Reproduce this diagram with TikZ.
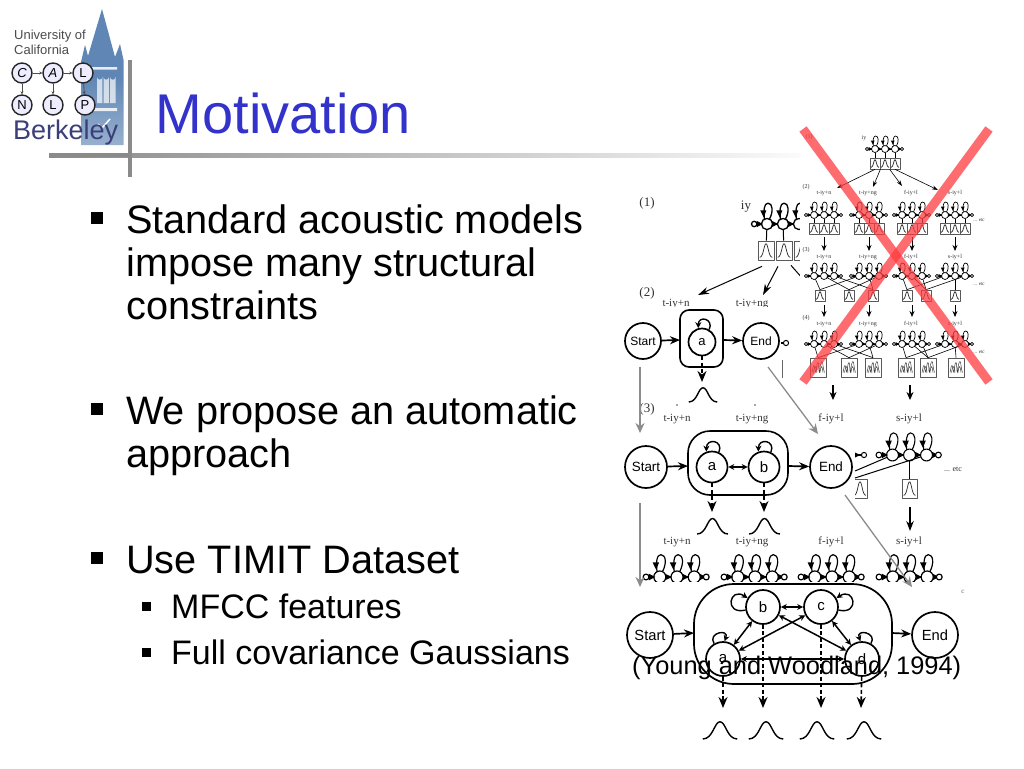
\documentclass[tikz,border=0pt]{standalone}
\usepackage{fontspec}
\setmainfont{Liberation Sans}
\newfontfamily\labelfont{Liberation Serif}
\usetikzlibrary{arrows.meta}
\definecolor{titleblue}{HTML}{3333CC}
\definecolor{rulegray}{HTML}{8A8A8A}
\definecolor{towerblue}{HTML}{5F86B4}
\definecolor{crestink}{HTML}{3B3E78}
\definecolor{xred}{HTML}{FF3B3F}
\definecolor{figgray}{HTML}{8C8C8C}
\newcommand{\pts}[1]{\fontsize{#1}{#1}\selectfont}
\tikzset{
	txt/.style={anchor=base west,inner sep=0pt},
	bulletbox/.style={fill=black,inner sep=0pt,minimum size=#1},
	figlabel/.style={inner sep=0pt,text=black!80,font=\labelfont\pts{#1}},
	state/.style={circle,draw,fill=white,line width=1.7pt,inner sep=0pt,minimum size=#1},
	gbox/.style={draw=black!65,fill=white,inner sep=0pt,line width=.7pt},
	crest/.style={circle,draw=black!85,fill=blue!7,line width=1.4pt,inner sep=0pt,minimum size=20pt,font=\pts{13}},
	hop/.style={line width=1.7pt,-{Stealth[length=10pt,width=8pt]}},
	hopboth/.style={line width=1.5pt,{Stealth[length=6pt,width=6pt]}-{Stealth[length=6pt,width=6pt]}},
	drop/.style={line width=1.6pt,dash pattern=on 4pt off 2.5pt,-{Stealth[length=11pt,width=9pt]}},
	looptip/.style={line width=1.4pt,-{Stealth[length=6pt,width=6pt]}},
	graylink/.style={color=figgray,line width=1.3pt,-{Stealth[length=10pt,width=9pt]}},
	pics/chain/.style={code={
		\draw (-18,0) -- (17,0);
		\foreach \n/\i in {1/-10,2/0,3/10}{
			\begin{scope}[shift={(\i,0)}]
				\coordinate (-s\n) at (0,0);
				\draw (1.5,-3) .. controls (4.2,-8) and (3.5,-13) .. (0.6,-13) .. controls (-2,-13) and (-2.2,-8) .. (-1.6,-3);
				\fill (-4.2,-8.5)--(-.4,-8.5)--(-2.1,-4.2)--cycle;
				\fill (3.1,-1.9)--(7,0)--(3.1,1.9)--cycle;
				\draw[fill=white] (0,0) circle (3.5);
			\end{scope}
		}
		\fill (-16.3,-1.9)--(-12.6,0)--(-16.3,1.9)--cycle;
		\draw[fill=white] (-18,0) circle (1.7);
		\draw[fill=white] (17,0) circle (1.7);
	}},
	pics/bump/.style={code={
		\draw (-15,0) .. controls (-6,0) and (-5,-15) .. (0,-15) .. controls (5,-15) and (6,0) .. (15,0);
	}},
	pics/mix/.style={code={
		\draw (-6,5) .. controls (-5,1) and (-5,-2) .. (-4,-2) .. controls (-3,-2) and (-3,5) .. (-2,5) .. controls (-1.5,-1) and (-1,-5) .. (0,-5) .. controls (1,-5) and (.5,5) .. (1.5,5) .. controls (2,-2) and (3,-6) .. (4,-6) .. controls (5,-6) and (5,2) .. (6.5,5);
		\draw (-4.5,5) .. controls (-3,-3) and (-2,-3) .. (-1,5);
		\draw (2,5) .. controls (3,-3) and (4,-3) .. (5,5);
	}},
}
\newcommand{\gaussbox}[5]{
	\node[gbox,minimum width=#4pt,minimum height=#5pt] (#1) at (#2,#3) {};
	\pic[xscale=#4/38,yscale=#5/21,line width=.7pt,draw=black!85] at (#2,{#3+#5*.36}) {bump};
}
\begin{document}
\begin{tikzpicture}[x=1pt,y=-1pt,line join=round]
	\useasboundingbox (0,0) rectangle (1024,768);
	\fill[white] (0,0) rectangle (1024,768);

	\shade[top color=towerblue,bottom color=towerblue!65,middle color=towerblue] (102,9)--(115,57)--(120,44)--(123.5,60)--(123.5,145)--(81,145)--(81,62)--(85,45)--(88,56)--cycle;
	\fill[white,opacity=.85] (91,67) rectangle (117,69.5) (91,108) rectangle (117,111);
	\fill[white,opacity=.7] (97,103)--(97,77) arc (180:0:2.7) --(102.4,103)--cycle (103.5,103)--(103.5,77) arc (180:0:2.7) --(108.9,103)--cycle (110,103)--(110,77) arc (180:0:2.8) --(115.6,103)--cycle;
	\draw[white,line width=1.5pt] (98,124)--(102,128)--(110,119);
	\node[txt,text=black!70,font=\pts{13}] (univ) at (14,40) {University of};
	\node[txt,text=black!70,font=\pts{13}] (calif) at (14,55) {California};
	\foreach \nm/\lt/\px/\py in {c1/\textit{C}/22/73,c2/\textit{A}/53/73,c3/L/83/73,n1/N/22/105,n2/L/53/105,n3/P/85/105}
		\node[crest] (\nm) at (\px,\py) {\lt};
	\foreach \p/\q in {c1/c2,c2/c3,c1/n1,c2/n2,c3/n3}
		\draw[black!70,line width=.8pt,-{Stealth[length=3pt,width=3pt]}] (\p) -- (\q);
	\node[txt,text=crestink,font=\pts{27}] (berk) at (13,139) {Berkeley};

	\shade[left color=rulegray,right color=white] (49,153) rectangle (830,157);
	\fill[rulegray] (49,153) rectangle (130,157);
	\fill[rulegray] (128,60) rectangle (131.5,177);
	\node[txt,text=titleblue,font=\pts{56}] (title) at (155.5,133) {Motivation};

	\node[bulletbox=12pt] (b1) at (97,218) {};
	\node[txt,font=\pts{39.7}] (l1) at (126,233) {Standard acoustic models};
	\node[txt,font=\pts{39.7}] (l2) at (126,276) {impose many structural};
	\node[txt,font=\pts{39.7}] (l3) at (126,319) {constraints};
	\node[bulletbox=12pt] (b2) at (97,409) {};
	\node[txt,font=\pts{39.7}] (l4) at (126,424) {We propose an automatic};
	\node[txt,font=\pts{39.7}] (l5) at (126,467) {approach};
	\node[bulletbox=12pt] (b3) at (97,558) {};
	\node[txt,font=\pts{39.7}] (l6) at (126,573) {Use TIMIT Dataset};
	\node[bulletbox=9pt] (b4) at (146.5,606) {};
	\node[txt,font=\pts{34}] (l7) at (171,618) {MFCC features};
	\node[bulletbox=9pt] (b5) at (146.5,652) {};
	\node[txt,font=\pts{34}] (l8) at (171,664) {Full covariance Gaussians};

	\node[figlabel=13] (fa1) at (647,203) {(1)};
	\node[figlabel=13] (fa2) at (647,293) {(2)};
	\node[figlabel=13] (fa3) at (647,409) {(3)};
	\node[figlabel=13] (iy) at (746,207) {iy};
	\gaussbox{pa}{766}{250.5}{16}{19}
	\gaussbox{pb}{784}{250.5}{16}{19}
	\gaussbox{pc}{802}{250.5}{16}{19}
	\pic[scale=1.6,line width=1.3pt] (p1) at (783,224) {chain};
	\draw[line width=1pt,shorten <=5.6pt] (p1-s1) -- (pa);
	\draw[line width=1pt,shorten <=5.6pt] (p1-s2) -- (pb);
	\foreach \nm/\lt/\px in {qa/t-iy+n/676,qb/t-iy+ng/752}
		\node[figlabel=11] (\nm) at (\px,304) {\lt};
	\coordinate (pt1) at (698,295);
	\coordinate (pt2) at (763,295);
	\coordinate (pt3) at (803,279);
	\draw[line width=1pt,-{Stealth[length=11pt,width=7pt]}] (pa.south)++(-4,6) -- (pt1);
	\draw[line width=1pt,-{Stealth[length=11pt,width=7pt]}] (pb.south)++(-6,6) -- (pt2);
	\draw[line width=1pt] (pb.south)++(7,5) -- (pt3);

	\fill[white] (620,306.5) rectangle (800,398);
	\node[state=36pt,font=\pts{12}] (sa) at (643,341) {Start};
	\draw[line width=1.6pt,rounded corners=9pt,fill=white] (680,310) rectangle (723,367);
	\node[state=27pt,font=\pts{13}] (ua) at (702,342) {a};
	\node[state=36pt,font=\pts{12}] (ea) at (761,341) {End};
	\coordinate (ba) at (680,340);
	\coordinate (bb) at (723,340);
	\draw[hop] (sa) -- (ba);
	\draw[hop] (bb) -- (ea);
	\draw[looptip] (ua.60) .. controls +(5,-11) and +(0,-13) .. (ua.105);
	\coordinate (ga) at (702,382);
	\draw[drop] (ua) -- (ga);
	\pic[scale=.95,line width=1.4pt] at (703,402) {bump};
	\coordinate (oa) at (786,343);
	\draw[line width=1.5pt] (781,343) -- (oa);
	\draw[line width=1pt,fill=white] (oa) circle (2.6);
	\draw[black!60,line width=.8pt] (782,360) -- (782,378);
	\fill[black!70] (677,405) circle (.8) (755,405) circle (.8);

	\fill[white] (800,130) rectangle (1000,385);
	\node[figlabel=6] (fb1) at (809,137) {(1)};
	\node[figlabel=6] (fb2) at (806,187) {(2)};
	\node[figlabel=6] (fb3) at (806,250) {(3)};
	\node[figlabel=6] (fb4) at (806,318) {(4)};
	\node[figlabel=6] (iys) at (864,138) {iy};
	\pic[line width=.7pt] (t1) at (885,149) {chain};
	\foreach \n/\px in {1/875,2/885,3/895}{
		\gaussbox{tb\n}{\px}{163.5}{10}{11}
		\draw[line width=.7pt,shorten <=3.5pt] (t1-s\n) -- (tb\n);
	}
	\foreach \n/\ex/\ey in {1/837/188,2/873/187,3/902/186,4/938/190}{
		\coordinate (ta\n) at (\ex,\ey);
	}
	\draw[line width=.6pt,-{Stealth[length=6pt,width=4pt]}] (tb1.south) -- (ta1);
	\draw[line width=.6pt,-{Stealth[length=6pt,width=4pt]}] (tb1.south east) -- (ta2);
	\draw[line width=.6pt,-{Stealth[length=6pt,width=4pt]}] (tb3.south west) -- (ta3);
	\draw[line width=.6pt,-{Stealth[length=6pt,width=4pt]}] (tb3.south) -- (ta4);
	\foreach \y/\k in {193/a,257/b,324/c}{
		\foreach \n/\lt/\px in {1/t-iy+n/824,2/t-iy+ng/868,3/f-iy+l/911,4/s-iy+l/955}
			\node[figlabel=6] (\k\n) at (\px,\y) {\lt};
	}
	\foreach \n/\px in {1/824,2/869,3/912,4/955}{
		\pic[line width=.7pt] (cb\n) at (\px,215) {chain};
		\foreach \m/\dx in {1/-10,2/0,3/10}{
			\gaussbox{cb\n b\m}{\px+\dx}{228.5}{10}{11}
			\draw[line width=.7pt,shorten <=3.5pt] (cb\n-s\m) -- (cb\n b\m);
		}
		\coordinate (dn\n) at (\px,251);
		\coordinate (up\n) at (\px,237);
		\draw[line width=.8pt,-{Stealth[length=6pt,width=5pt]}] (up\n) -- (dn\n);
		\pic[line width=.7pt] (cc\n) at (\px,276) {chain};
		\pic[line width=.7pt] (cd\n) at (\px,344) {chain};
		\coordinate (dp\n) at (\px,317);
		\coordinate (uq\n) at (\px,305);
		\draw[line width=.8pt,-{Stealth[length=6pt,width=5pt]}] (uq\n) -- (dp\n);
	}
	\foreach \n/\px in {1/820,2/849,3/873,4/907,5/926,6/955}{
		\gaussbox{xb\n}{\px}{295.5}{10}{11}
	}
	\foreach \n/\px in {1/818,2/849,3/873,4/906,5/928,6/956}{
		\node[gbox,minimum width=16pt,minimum height=19pt] (xc\n) at (\px,367.5) {};
		\pic[line width=.5pt,black!75] at (\px,367.5) {mix};
	}
	\foreach \c/\s/\b in {1/1/1,2/1/1,1/2/2,2/3/2,1/3/3,2/2/3,3/1/4,3/2/5,3/3/5,4/1/4,4/2/6,4/3/5}{
		\draw[line width=.6pt,shorten <=3.5pt] (cc\c-s\s) -- (xb\b.north);
		\draw[line width=.6pt,shorten <=3.5pt] (cd\c-s\s) -- (xc\b.north);
	}
	\node[figlabel=5] (etc1) at (979,220) {... etc};
	\node[figlabel=5] (etc2) at (979,284) {... etc};
	\node[figlabel=5] (etc3) at (979,352) {... etc};
	\foreach \n/\px in {1/833,2/910}{
		\coordinate (fa\n) at (\px,385);
		\coordinate (fd\n) at (\px,400);
		\draw[line width=1.5pt,-{Stealth[length=8pt,width=7pt]}] (fa\n) -- (fd\n);
	}

	\foreach \n/\lt/\px in {1/t-iy+n/677,2/t-iy+ng/752,3/f-iy+l/831,4/s-iy+l/909}{
		\node[figlabel=11] (ra\n) at (\px,419) {\lt};
		\node[figlabel=11] (rb\n) at (\px,542) {\lt};
	}
	\draw[line width=1.6pt,rounded corners=22pt,fill=white] (688,431) rectangle (788,495);
	\node[state=42pt,font=\pts{13.4}] (sb) at (646,467) {Start};
	\node[state=31pt,font=\pts{15}] (ub) at (712,467) {a};
	\node[state=31pt,font=\pts{15}] (vb) at (764,467) {b};
	\node[state=42pt,font=\pts{13.4}] (eb) at (831,467) {End};
	\coordinate (bc) at (688,466);
	\coordinate (bd) at (788,466);
	\draw[hop] (sb) -- (bc);
	\draw[hop] (bd) -- (eb);
	\draw[hopboth] (ub) -- (vb);
	\foreach \s/\px in {ub/712,vb/764}{
		\draw[looptip] (\s.65) .. controls +(5,-12) and +(0,-14) .. (\s.110);
		\coordinate (g\s) at (\px,512);
		\draw[drop] (\s) -- (g\s);
		\pic[scale=1.03,line width=1.4pt] at (\px+.5,534) {bump};
	}
	\coordinate (ob) at (864,455);
	\draw[line width=1.4pt] (855,455) -- (ob);
	\fill (855,452.5)--(860,455)--(855,457.5)--cycle;
	\draw[line width=1pt,fill=white] (ob) circle (2.6);
	\pic[scale=1.7,line width=1.1pt] (kb) at (909.5,455) {chain};
	\coordinate (lk1) at (855,471);
	\coordinate (lk2) at (855,478);
	\draw[line width=1pt,shorten <=6pt] (kb-s1) -- (lk1);
	\draw[line width=1pt,shorten <=6pt] (kb-s3) -- (lk2);
	\gaussbox{kx}{909.5}{488.5}{15}{19}
	\draw[line width=1pt,shorten <=6pt] (kb-s2) -- (kx);
	\begin{scope}
		\clip (855,479) rectangle (868,499);
		\gaussbox{kw}{860}{488.5}{15}{19}
	\end{scope}
	\coordinate (kd) at (910,531);
	\coordinate (ke) at (910,507);
	\draw[line width=1.5pt,-{Stealth[length=10pt,width=7.5pt]}] (ke) -- (kd);
	\node[figlabel=8] (etc4) at (953,469) {... etc};

	\foreach \n/\px in {1/677,2/755,3/832,4/910}{
		\pic[scale=1.72,line width=1.2pt] (ce\n) at (\px,577) {chain};
	}
	\fill[white] (620,581.5) rectangle (1000,760);
	\node[figlabel=7,text=black!60] (cc) at (963,592) {c};

	\draw[line width=1.7pt,rounded corners=40pt,fill=white] (694,584) rectangle (892,684);
	\node[state=46pt,font=\pts{14.7}] (sc) at (650,635) {Start};
	\node[state=34pt,font=\pts{15}] (bn) at (763,607) {b};
	\node[state=34pt,font=\pts{15}] (cn) at (821,607) {c};
	\node[state=34pt,font=\pts{15}] (an) at (723,659) {a};
	\node[state=34pt,font=\pts{15}] (dn) at (862,659) {d};
	\node[state=46pt,font=\pts{14.7}] (ec) at (935,635) {End};
	\coordinate (be) at (694,633);
	\coordinate (bf) at (892,633);
	\draw[hop] (sc) -- (be);
	\draw[hop] (bf) -- (ec);
	\draw[hopboth] (bn) -- (cn);
	\draw[hopboth] (bn) -- (an);
	\draw[hopboth] (cn) -- (dn);
	\draw[hopboth] (cn) -- (an);
	\draw[hopboth] (bn) -- (dn);
	\draw[hopboth] (an) -- (dn);
	\draw[looptip] (bn.190) .. controls +(-22,5) and +(-18,-12) .. (bn.150);
	\draw[looptip] (cn.350) .. controls +(22,5) and +(18,-12) .. (cn.30);
	\draw[looptip] (an.120) .. controls +(-7,-11) and +(5,-13) .. (an.85);
	\draw[looptip] (dn.60) .. controls +(7,-11) and +(-5,-13) .. (dn.95);
	\foreach \s/\px in {an/723,bn/763,cn/821,dn/861}{
		\coordinate (g\s) at (\px,708);
		\draw[drop] (\s) -- (g\s);
	}
	\foreach \px in {720,766,817,864}
		\pic[scale=1.15,line width=1.4pt] at (\px,739) {bump};

	\coordinate (dg1) at (640,367);
	\coordinate (dg2) at (640,433);
	\coordinate (dg3) at (640,503);
	\coordinate (dg4) at (640,587);
	\coordinate (dg5) at (768,367);
	\coordinate (dg6) at (818,434);
	\coordinate (dg7) at (845,495);
	\coordinate (dg8) at (912,587);
	\draw[graylink] (dg1) -- (dg2);
	\draw[graylink] (dg3) -- (dg4);
	\draw[graylink] (dg5) -- (dg6);
	\draw[graylink] (dg7) -- (dg8);

	\node[txt,font=\pts{25.4}] (cite) at (632,674) {(Young and Woodland, 1994)};

	\coordinate (xa) at (803,129);
	\coordinate (xb) at (989,382);
	\coordinate (xc) at (989,129);
	\coordinate (xd) at (803,382);
	\draw[xred,line width=9pt,opacity=.75] (xa) -- (xb);
	\draw[xred,line width=9pt,opacity=.75] (xc) -- (xd);
\end{tikzpicture}
\end{document}
